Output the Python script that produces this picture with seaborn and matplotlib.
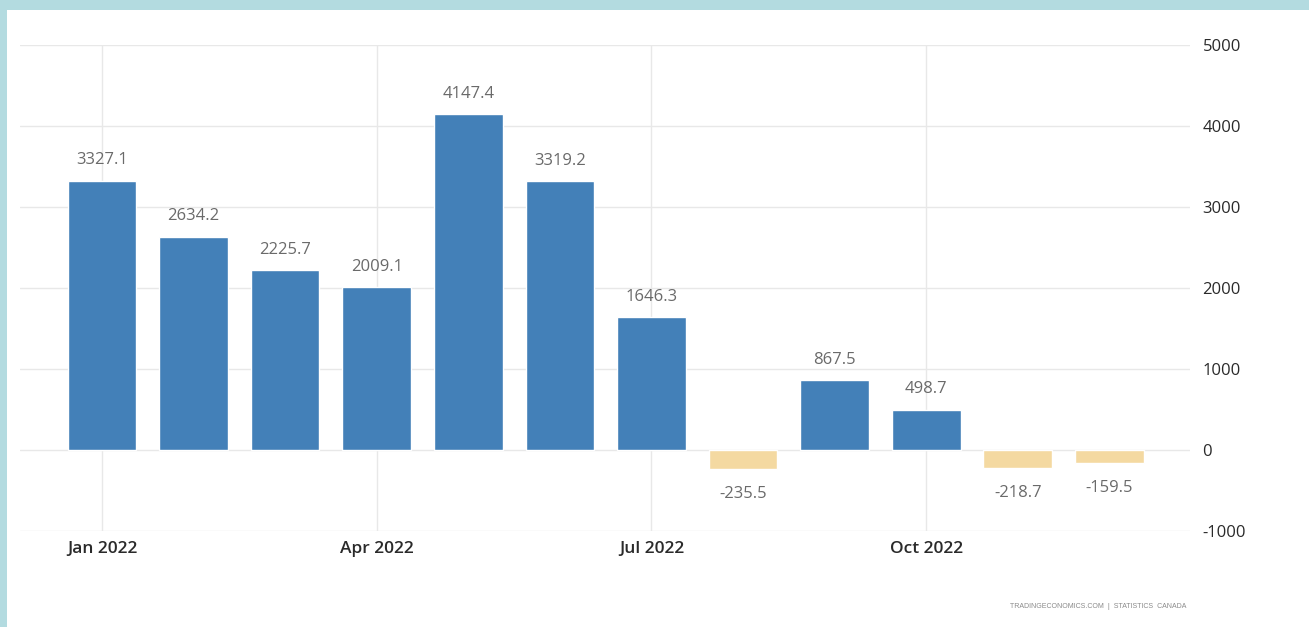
import matplotlib
matplotlib.use("Agg")
import matplotlib.pyplot as plt
import seaborn as sns
import pandas as pd
from matplotlib.patches import Rectangle

months = ["Jan 2022", "Feb 2022", "Mar 2022", "Apr 2022", "May 2022", "Jun 2022",
          "Jul 2022", "Aug 2022", "Sep 2022", "Oct 2022", "Nov 2022", "Dec 2022"]
values = [3327.1, 2634.2, 2225.7, 2009.1, 4147.4, 3319.2,
          1646.3, -235.5, 867.5, 498.7, -218.7, -159.5]
shown_ticks = ["Jan 2022", "Apr 2022", "Jul 2022", "Oct 2022"]
y_ticks = [-1000, 0, 1000, 2000, 3000, 4000, 5000]
source = "TRADINGECONOMICS.COM  |  STATISTICS  CANADA"

sns.set_theme(style="white")
plt.rcParams['font.family'] = ['Open Sans', 'DejaVu Sans']

df = pd.DataFrame({"month": months, "value": values})
df["sign"] = ["pos" if v >= 0 else "neg" for v in values]

W, H = 1309, 627
fig = plt.figure(figsize=(W / 100, H / 100), dpi=100)
fig.patch.set_facecolor("#b3dbe0")
fig.patches.append(Rectangle((7 / W, 0), 1 - 7 / W, 1 - 10 / H, transform=fig.transFigure,
                             facecolor="white", edgecolor="none", zorder=-10))

ax = fig.add_axes([20 / W, 96 / H, 1170 / W, 486 / H])
ax.set_zorder(1)
ax.set_facecolor("none")

sns.barplot(data=df, x="month", y="value", hue="sign", order=months,
            palette={"pos": "#4380b8", "neg": "#f4d9a1"}, dodge=False,
            saturation=1, width=0.75, legend=False, ax=ax, zorder=3)

ax.set_xlim(-0.895, 11.88)
ax.set_ylim(-1000, 5000)
ax.set_yticks(y_ticks)
ax.set_yticklabels([str(t) for t in y_ticks])
ax.yaxis.tick_right()
ax.tick_params(axis="y", length=0, pad=9, labelsize=12, labelcolor="#2a2a2a")

tick_pos = [months.index(m) for m in shown_ticks]
ax.set_xticks(tick_pos)
ax.set_xticklabels(shown_ticks, fontweight="semibold")
ax.tick_params(axis="x", length=0, pad=7, labelsize=12.5, labelcolor="#2a2a2a")

ax.grid(True, color="#e8e8e8", linewidth=1, zorder=0)
ax.set_axisbelow(True)
for s in ax.spines.values():
    s.set_visible(False)
ax.set_xlabel("")
ax.set_ylabel("")

for i, v in enumerate(values):
    if v >= 0:
        ax.annotate(f"{v}", (i, v), xytext=(0, 14.5), textcoords="offset points",
                    ha="center", va="center", fontsize=12, color="#6a6a6a")
    else:
        ax.annotate(f"{v}", (i, v), xytext=(0, -18), textcoords="offset points",
                    ha="center", va="center", fontsize=12, color="#6a6a6a")

fig.text(1186 / W, 1 - 607 / H, source, ha="right", va="center",
         fontsize=5.0, color="#8a8a8a", family=['Liberation Sans Narrow', 'Liberation Sans', 'DejaVu Sans'])

fig.savefig("out.png", dpi=100, facecolor=fig.get_facecolor())
